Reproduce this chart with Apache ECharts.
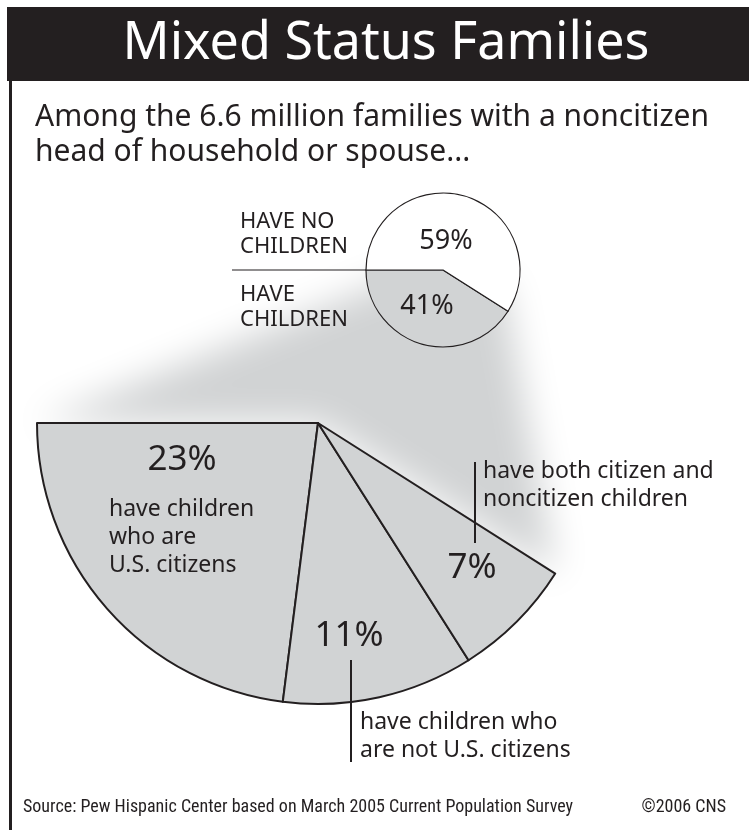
<!DOCTYPE html>
<html><head><meta charset="utf-8">
<script src="https://cdn.jsdelivr.net/npm/echarts@6/dist/echarts.min.js"></script>
<style>html,body{margin:0;padding:0;background:#fff}#c{width:749px;height:830px}</style>
</head><body><div id="c"></div>
<script>
// ---- data ----
const titleText = 'Mixed Status Families';
const subtitleLines = ['Among the 6.6 million families with a noncitizen', 'head of household or spouse...'];
const overallNames = ['HAVE\nCHILDREN', 'HAVE NO\nCHILDREN'];
const overallValues = [41, 59];
const childNames = ['have children\nwho are\nU.S. citizens', 'have children who\nare not U.S. citizens', 'have both citizen and\nnoncitizen children'];
const childValues = [23, 11, 7];
const sourceText = 'Source: Pew Hispanic Center based on March 2005 Current Population Survey';
const creditText = '\u00A92006 CNS';

// ---- layout / style ----
const INK = '#231f20', GRAY = '#d1d3d4';
const FONT = '"Noto Sans", "Open Sans", sans-serif';
const NARROW = '"Liberation Sans Narrow", "Roboto Condensed", "Noto Sans", sans-serif';
const C1 = [443, 270], R1 = 77;
const C2 = [318, 423], R2 = 281;
const START = 180;
const total = overallValues.reduce((a, b) => a + b, 0);
const childTotal = childValues.reduce((a, b) => a + b, 0);
const rest = total - childTotal;
const endAng = (START + 360 * overallValues[0] / total) * Math.PI / 180;
const pt = (c, r, a) => [c[0] + r * Math.cos(a), c[1] - r * Math.sin(a)];

const smallPctPos = [[427, 306], [446, 241]];
const smallNamePos = [[240, 307], [240, 234]];
const bigPctPos = [[182, 460], [349, 636], [472, 568]];
const bigNamePos = [[109, 495], [360, 708], [483, 457]];

// spotlight polygon derived from pie geometry
const A = pt(C1, R1, Math.PI), B = pt(C2, R2, Math.PI);
const D = pt(C1, R1, endAng), E = pt(C2, R2, endAng);
function ext(p, q, d) { const dx = p[0] - q[0], dy = p[1] - q[1]; const l = Math.hypot(dx, dy); return [p[0] + dx / l * d, p[1] + dy / l * d]; }
const A2 = ext(A, B, 20), D2 = ext(D, E, 30);
const A3 = [A2[0] + 22, A2[1] + 12];
const OFF = 3000;
const spot = [A3, D2, E, C2, B].map(p => [p[0] + OFF, p[1]]);

const chart = echarts.init(document.getElementById('c'), null, { renderer: 'canvas' });
const option = {
  animation: false,
  backgroundColor: '#fff',
  title: [
    { text: titleText, left: 386, top: 18, textAlign: 'center', padding: 0,
      textStyle: { color: '#fff', fontSize: 52, fontWeight: 'normal', fontFamily: FONT, lineHeight: 52 } },
    { text: subtitleLines.join('\n'), left: 35, top: 100, padding: 0,
      textStyle: { color: INK, fontSize: 30, fontWeight: 'normal', fontFamily: FONT, lineHeight: 35 } },
    { text: sourceText, left: 23, top: 798, padding: 0,
      textStyle: { color: INK, fontSize: 18, fontWeight: 'normal', fontFamily: NARROW, lineHeight: 18 } },
    { text: creditText, right: 23, top: 798, padding: 0,
      textStyle: { color: INK, fontSize: 18, fontWeight: 'normal', fontFamily: NARROW, lineHeight: 18 } }
  ],
  graphic: [
    { type: 'rect', z: 0, shape: { x: 7, y: 7, width: 742, height: 74 }, style: { fill: INK } },
    { type: 'rect', z: 0, shape: { x: 9, y: 81, width: 3, height: 749 }, style: { fill: INK } },
    { type: 'polygon', z: 0, shape: { points: spot },
      style: { fill: GRAY, shadowColor: GRAY, shadowBlur: 36, shadowOffsetX: -OFF } },
    { type: 'line', z: 5, shape: { x1: 232, y1: C1[1], x2: C1[0] - R1, y2: C1[1] }, style: { stroke: INK, lineWidth: 1.2 } },
    { type: 'line', z: 5, shape: { x1: 475, y1: 462, x2: 475, y2: 543 }, style: { stroke: INK, lineWidth: 2 } },
    { type: 'line', z: 5, shape: { x1: 351, y1: 660, x2: 351, y2: 762 }, style: { stroke: INK, lineWidth: 2 } }
  ],
  series: [
    {
      type: 'pie', center: C1, radius: R1, startAngle: START, clockwise: false, silent: true, z: 3,
      avoidLabelOverlap: false,
      data: overallValues.map((v, i) => ({ value: v, name: overallNames[i], itemStyle: { color: i === 0 ? GRAY : '#fff' } })),
      itemStyle: { borderColor: INK, borderWidth: 1.2 },
      label: { show: true, position: 'inside', formatter: '{c}%', color: INK, fontSize: 27, fontFamily: FONT },
      labelLine: { show: false },
      labelLayout: p => ({ x: smallPctPos[p.dataIndex][0], y: smallPctPos[p.dataIndex][1], align: 'center', verticalAlign: 'middle' })
    },
    {
      type: 'pie', center: C1, radius: R1, startAngle: START, clockwise: false, silent: true, z: 4,
      avoidLabelOverlap: false,
      data: overallValues.map((v, i) => ({ value: v, name: overallNames[i] })),
      itemStyle: { color: 'none', borderWidth: 0 },
      label: { show: true, position: 'inside', formatter: '{b}', color: INK, fontSize: 22, lineHeight: 25, fontFamily: FONT, align: 'left' },
      labelLine: { show: false },
      labelLayout: p => ({ x: smallNamePos[p.dataIndex][0], y: smallNamePos[p.dataIndex][1], align: 'left', verticalAlign: 'middle' })
    },
    {
      type: 'pie', center: C2, radius: R2, startAngle: START, clockwise: false, silent: true, z: 3,
      avoidLabelOverlap: false,
      data: childValues.map((v, i) => ({ value: v, name: childNames[i], itemStyle: { color: GRAY } }))
        .concat([{ value: rest, name: '', itemStyle: { color: 'none', borderWidth: 0 }, label: { show: false } }]),
      itemStyle: { borderColor: INK, borderWidth: 2 },
      label: { show: true, position: 'inside', formatter: '{c}%', color: INK, fontSize: 35, fontFamily: FONT },
      labelLine: { show: false },
      labelLayout: p => p.dataIndex < 3 ? ({ x: bigPctPos[p.dataIndex][0], y: bigPctPos[p.dataIndex][1], align: 'center', verticalAlign: 'middle' }) : {}
    },
    {
      type: 'pie', center: C2, radius: R2, startAngle: START, clockwise: false, silent: true, z: 4,
      avoidLabelOverlap: false,
      data: childValues.map((v, i) => ({ value: v, name: childNames[i] }))
        .concat([{ value: rest, name: '', label: { show: false } }]),
      itemStyle: { color: 'none', borderWidth: 0 },
      label: { show: true, position: 'inside', formatter: '{b}', color: INK, fontSize: 23, lineHeight: 28, fontFamily: FONT, align: 'left' },
      labelLine: { show: false },
      labelLayout: p => p.dataIndex < 3 ? ({ x: bigNamePos[p.dataIndex][0], y: bigNamePos[p.dataIndex][1], align: 'left', verticalAlign: 'top' }) : {}
    }
  ]
};
chart.setOption(option);
</script>
</body></html>
